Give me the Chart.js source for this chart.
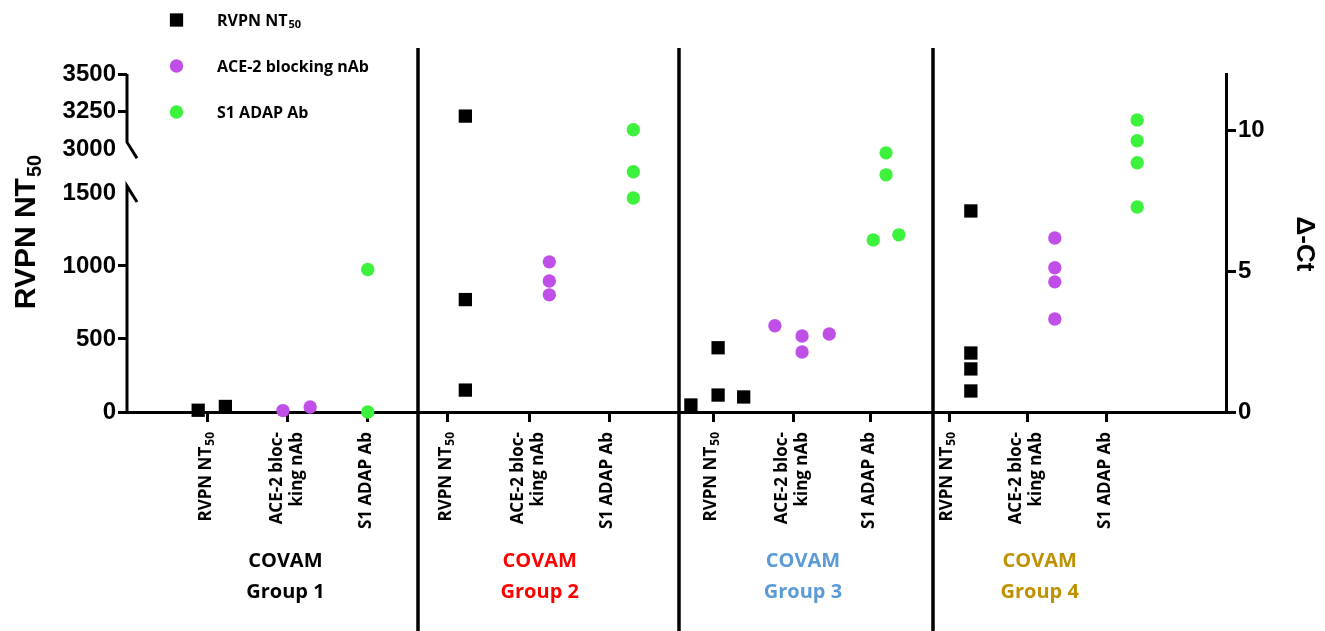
<!DOCTYPE html>
<html>
<head>
<meta charset="utf-8">
<script src="https://cdn.jsdelivr.net/npm/chart.js@4.4.1/dist/chart.umd.min.js"></script>
<style>
  body { margin: 0; background: #fff; }
  #wrap { width: 1325px; height: 631px; position: relative; }
</style>
</head>
<body>
<div id="wrap"><canvas id="covamChart"></canvas></div>
<script>
// series names ("_" marks the subscript part)
const seriesNames = ['RVPN NT_50', 'ACE-2 blocking nAb', 'S1 ADAP Ab'];
const categoryLines = [['RVPN NT_50'], ['ACE-2 bloc-', 'king nAb'], ['S1 ADAP Ab']];
const groupNames = ['Group 1', 'Group 2', 'Group 3', 'Group 4'];
const groupColors = ['#000000', '#ff0000', '#5b9bd5', '#bf9000'];

// x positions of the category ticks, group separators and group captions
const categoryTicks = [1.01, 2.01, 3.01, 4.01, 5.03, 6.03, 7.33, 8.33, 9.3, 10.28, 11.26, 12.25];
const groupDividers = [3.64, 6.9, 10.08];
const groupLabelAt = [1.98, 5.16, 8.45, 11.41];

const leftTicks = [0, 500, 1000, 1500, 3000, 3250, 3500];
const rightTicks = [0, 5, 10];

// RVPN NT50 (left axis)
const rvpnX = [0.89, 1.23, 4.23, 4.23, 4.23, 7.05, 7.39, 7.39, 7.71, 10.55, 10.55, 10.55, 10.55];
const rvpnY = [12, 38, 3220, 770, 150, 48, 440, 116, 103, 1377, 404, 295, 144];

// ACE-2 blocking nAb (right axis)
const aceX = [1.95, 2.29, 5.28, 5.28, 5.28, 8.1, 8.44, 8.44, 8.78, 11.6, 11.6, 11.6, 11.6];
const aceY = [0.05, 0.18, 5.33, 4.65, 4.16, 3.06, 2.7, 2.13, 2.77, 6.18, 5.12, 4.62, 3.3];

// S1 ADAP Ab, delta-Ct (right axis)
const s1X = [3.01, 3.01, 6.33, 6.33, 6.33, 9.33, 9.49, 9.49, 9.65, 12.63, 12.63, 12.63, 12.63];
const s1Y = [0, 5.06, 10.02, 8.53, 7.6, 6.11, 9.2, 8.42, 6.29, 10.37, 9.63, 8.85, 7.28];

// left axis is broken between 1500 and 3000
const BREAK_LOW = 1500, BREAK_HIGH = 3000, BREAK_GAP = 300, UPPER_STRETCH = 1.03;
function toAxis(v) {
  return v <= BREAK_LOW ? v : BREAK_LOW + BREAK_GAP + (v - BREAK_HIGH) * UPPER_STRETCH;
}
function fromAxis(a) {
  return a <= BREAK_LOW ? a : BREAK_HIGH + (a - BREAK_LOW - BREAK_GAP) / UPPER_STRETCH;
}

const ARIAL = '"Liberation Sans", Arial, sans-serif';
const LABEL_FONT = '"Open Sans", "Noto Sans", sans-serif';

// text with an optional subscript part after "_"
function drawRich(ctx, str, x, y, size, family, align, subRatio) {
  const [main, sub] = str.split('_');
  const subSize = Math.round(size * (subRatio || 0.68));
  ctx.font = `bold ${size}px ${family}`;
  const wMain = ctx.measureText(main).width;
  let wSub = 0;
  if (sub) {
    ctx.font = `bold ${subSize}px ${family}`;
    wSub = ctx.measureText(sub).width + 1;
  }
  const total = wMain + wSub;
  const x0 = align === 'right' ? x - total : align === 'center' ? x - total / 2 : x;
  ctx.textAlign = 'left';
  ctx.textBaseline = 'middle';
  ctx.font = `bold ${size}px ${family}`;
  ctx.fillText(main, x0, y);
  if (sub) {
    ctx.font = `bold ${subSize}px ${family}`;
    ctx.fillText(sub, x0 + wMain + 1, y + size * 0.27);
  }
}

const decorations = {
  id: 'decorations',
  beforeDatasetsDraw(chart) {
    const {ctx, chartArea: a, scales: {x, y}} = chart;
    ctx.save();
    ctx.strokeStyle = '#000';
    ctx.lineWidth = 3;
    ctx.lineJoin = 'miter';

    // broken left axis with the two slashes
    const yLow = y.getPixelForValue(toAxis(BREAK_LOW));
    const yHigh = y.getPixelForValue(toAxis(BREAK_HIGH));
    ctx.beginPath();
    ctx.moveTo(a.left, a.bottom + 1.5);
    ctx.lineTo(a.left, yLow - 7);
    ctx.lineTo(a.left + 10, yLow + 9);
    ctx.moveTo(a.left, a.top);
    ctx.lineTo(a.left, yHigh - 7);
    ctx.lineTo(a.left + 10, yHigh + 9);
    ctx.stroke();

    // group separators
    ctx.lineWidth = 3.5;
    groupDividers.forEach(d => {
      const px = Math.round(x.getPixelForValue(d));
      ctx.beginPath();
      ctx.moveTo(px, 48);
      ctx.lineTo(px, chart.height);
      ctx.stroke();
    });
    ctx.restore();
  },
  afterDraw(chart) {
    const {ctx, chartArea: a, scales: {x}} = chart;
    ctx.save();
    ctx.fillStyle = '#000';

    // category labels under each tick, rotated
    categoryTicks.forEach((t, i) => {
      const lines = categoryLines[i % categoryLines.length];
      const offsets = lines.length === 1 ? [-2] : [-11, 9];
      ctx.save();
      ctx.translate(x.getPixelForValue(t), a.bottom + 20);
      ctx.rotate(-Math.PI / 2);
      lines.forEach((ln, k) => drawRich(ctx, ln, 0, offsets[k], 17, LABEL_FONT, 'right'));
      ctx.restore();
    });

    // group captions
    groupNames.forEach((g, i) => {
      const cx = x.getPixelForValue(groupLabelAt[i]);
      ctx.fillStyle = groupColors[i];
      ctx.font = `bold 20px ${LABEL_FONT}`;
      ctx.textAlign = 'center';
      ctx.textBaseline = 'middle';
      ctx.fillText('COVAM', cx, 561);
      ctx.fillText(g, cx, 592);
    });

    // axis titles
    ctx.fillStyle = '#000';
    ctx.save();
    ctx.translate(27, 232);
    ctx.rotate(-Math.PI / 2);
    drawRich(ctx, 'RVPN NT_50', 0, 0, 30, ARIAL, 'center', 0.68);
    ctx.restore();

    ctx.save();
    ctx.translate(1304, 244);
    ctx.rotate(Math.PI / 2);
    ctx.font = `bold 26px ${ARIAL}`;
    ctx.textAlign = 'center';
    ctx.textBaseline = 'middle';
    ctx.fillText('\u0394-Ct', 0, 0);
    ctx.restore();

    // legend
    const rows = [20, 66, 112];
    chart.data.datasets.forEach((ds, i) => {
      ctx.fillStyle = ds.backgroundColor;
      Chart.helpers.drawPoint(ctx, {
        pointStyle: ds.pointStyle, radius: ds.pointRadius, rotation: 0, borderWidth: 0
      }, 176.5, rows[i]);
      ctx.fillStyle = '#000';
      drawRich(ctx, seriesNames[i], 217, rows[i] + 1, 16, LABEL_FONT, 'left');
    });
    ctx.restore();
  }
};

function points(xs, ys, map) {
  return xs.map((v, i) => ({x: v, y: map ? map(ys[i]) : ys[i]}));
}

new Chart(document.getElementById('covamChart'), {
  type: 'scatter',
  data: {
    datasets: [
      {
        label: 'RVPN NT50',
        data: points(rvpnX, rvpnY, toAxis),
        yAxisID: 'y',
        pointStyle: 'rect',
        pointRadius: 9.4,
        backgroundColor: '#000000',
        borderWidth: 0,
        clip: false
      },
      {
        label: 'ACE-2 blocking nAb',
        data: points(aceX, aceY),
        yAxisID: 'y1',
        pointStyle: 'circle',
        pointRadius: 6.7,
        backgroundColor: '#c04fe8',
        borderWidth: 0,
        clip: false
      },
      {
        label: 'S1 ADAP Ab',
        data: points(s1X, s1Y),
        yAxisID: 'y1',
        pointStyle: 'circle',
        pointRadius: 6.7,
        backgroundColor: '#3df23d',
        borderWidth: 0,
        clip: false
      }
    ]
  },
  options: {
    responsive: true,
    maintainAspectRatio: false,
    animation: false,
    events: [],
    layout: { padding: { top: 74, left: 0, right: 0, bottom: 0 } },
    plugins: {
      legend: { display: false },
      tooltip: { enabled: false }
    },
    scales: {
      x: {
        type: 'linear',
        min: 0,
        max: 13.74,
        afterBuildTicks: s => { s.ticks = categoryTicks.map(v => ({value: v})); },
        afterFit: s => { s.height = 219; },
        ticks: { display: false },
        grid: { drawOnChartArea: false, drawTicks: true, tickLength: 10, lineWidth: 3, color: '#000' },
        border: { display: true, width: 3, color: '#000' }
      },
      y: {
        position: 'left',
        min: 0,
        max: toAxis(3500),
        afterBuildTicks: s => { s.ticks = leftTicks.map(v => ({value: toAxis(v)})); },
        afterFit: s => { s.width = 127; },
        ticks: {
          color: '#000',
          padding: 2,
          font: { family: ARIAL, size: 24, weight: 'bold' },
          callback: v => String(Math.round(fromAxis(v)))
        },
        grid: {
          drawOnChartArea: false,
          drawTicks: true,
          tickLength: 9,
          lineWidth: 3,
          color: c => {
            const v = c.tick ? Math.round(fromAxis(c.tick.value)) : 0;
            return (v === BREAK_LOW || v === BREAK_HIGH) ? 'rgba(0,0,0,0)' : '#000';
          }
        },
        border: { display: false }
      },
      y1: {
        position: 'right',
        min: 0,
        max: 12,
        afterBuildTicks: s => { s.ticks = rightTicks.map(v => ({value: v})); },
        afterFit: s => { s.width = 99; },
        ticks: {
          color: '#000',
          padding: 2,
          font: { family: ARIAL, size: 24, weight: 'bold' }
        },
        grid: { drawOnChartArea: false, drawTicks: true, tickLength: 10, lineWidth: 3, color: '#000' },
        border: { display: true, width: 3, color: '#000' }
      }
    }
  },
  plugins: [decorations]
});
</script>
</body>
</html>
